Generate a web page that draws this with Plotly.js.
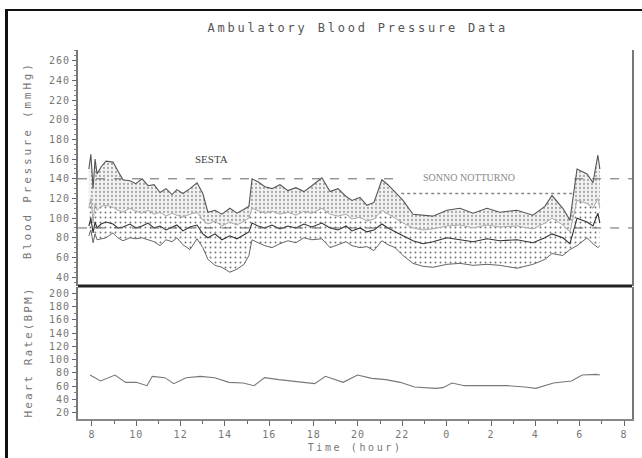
<!DOCTYPE html>
<html>
<head>
<meta charset="utf-8">
<script src="https://cdn.plot.ly/plotly-3.0.1.min.js"></script>
<style>
  html, body { margin: 0; padding: 0; background: #fff; }
  #chart { width: 642px; height: 458px; }
  #frame { position: absolute; left: 5px; top: 9px; width: 660px; height: 470px;
           border-left: 3px solid #111; border-top: 2px solid #111; pointer-events: none; }
</style>
</head>
<body>
<div id="chart"></div>
<div id="frame"></div>
<script>
// ---- data (hours; values after 24 are the next morning) ----
const hours = [7.86,7.95,8.05,8.14,8.23,8.41,8.63,8.95,9.17,9.40,9.71,9.98,10.26,10.53,10.80,11.07,11.34,11.61,11.83,12.10,12.42,12.74,13.00,13.23,13.55,13.86,14.22,14.54,14.86,15.08,15.22,15.49,15.80,16.12,16.48,16.84,17.20,17.56,17.92,18.37,18.74,19.10,19.46,19.73,20.09,20.40,20.72,21.08,21.35,21.67,22.03,22.48,22.93,23.38,24.01,24.60,25.19,25.82,26.40,27.17,27.89,28.43,28.75,29.24,29.56,29.88,30.33,30.60,30.82,30.91];
const systolic = [150,165,130,160,145,152,158,157,148,139,138,135,140,133,134,126,130,124,129,125,130,136,125,106,108,104,110,105,109,112,140,137,132,130,134,128,131,127,133,141,127,130,122,118,121,113,116,139,134,126,118,104,103,102,108,110,105,110,106,108,103,112,123,110,98,150,145,136,164,150];
const upperMid = [110,120,95,115,108,112,113,111,108,106,110,107,105,108,104,106,102,105,103,101,104,106,98,94,97,92,96,93,97,100,110,108,105,107,104,106,103,107,105,110,104,102,104,99,101,97,99,108,104,100,95,90,88,89,92,93,90,93,91,92,89,95,100,93,86,118,115,110,120,110];
const meanLine = [92,100,85,96,90,94,96,94,90,91,94,90,92,95,90,92,88,91,93,87,91,93,84,80,84,78,82,79,83,86,95,92,90,93,89,92,90,94,91,95,90,88,92,87,90,86,88,94,90,86,82,77,74,76,80,78,76,79,77,78,75,80,84,80,74,100,96,92,105,95];
const diastolic = [82,88,75,84,78,79,80,85,80,77,80,79,80,78,76,72,78,76,80,73,68,79,70,58,52,50,45,48,53,62,78,75,72,70,74,77,75,80,78,79,70,73,76,72,70,71,67,77,73,70,62,54,51,50,53,54,52,53,52,49,53,58,64,62,68,72,80,74,70,72];

const hrHours = [7.91,8.39,9.04,9.52,10.00,10.48,10.72,11.29,11.69,12.25,12.89,13.54,14.18,14.82,15.31,15.79,16.43,17.08,17.72,18.05,18.53,19.33,19.98,20.62,21.26,21.90,22.55,23.51,23.83,24.24,24.80,25.93,26.73,27.53,28.02,28.82,29.63,30.11,30.76,30.91];
const heartRate = [77,68,77,66,66,61,75,73,64,73,75,73,66,65,61,73,70,68,66,64,75,66,77,72,70,66,59,57,58,65,61,61,61,59,57,65,68,77,78,77];

const xTickVals = [8,10,12,14,16,18,20,22,24,26,28,30,32];
const xTickText = ["8","10","12","14","16","18","20","22","0","2","4","6","8"];
const bpTicks = [40,60,80,100,120,140,160,180,200,220,240,260];
const hrTicks = [20,40,60,80,100,120,140,160,180,200];

// threshold segments: [startHour, endHour, value]
const daySysLimit = [[7.37,21.95,140],[29.75,32.36,140]];
const dayDiaLimit = [[7.37,21.95,90],[29.75,32.36,90]];
const nightSysLimit = [[21.95,29.75,125]];

const labels = [
  {text:"SESTA", x:13.4, y:160},
  {text:"SONNO NOTTURNO", x:25.0, y:141}
];

// ---- traces ----
const traces = [
  {x:hours, y:diastolic, type:'scatter', mode:'lines', xaxis:'x', yaxis:'y',
   line:{color:'#666', width:1}, hoverinfo:'skip'},
  {x:hours, y:upperMid, type:'scatter', mode:'lines', xaxis:'x', yaxis:'y', fill:'tonexty',
   fillcolor:'rgba(0,0,0,0)',
   fillpattern:{shape:'.', fgcolor:'#777', bgcolor:'rgba(255,255,255,0)', size:5, solidity:0.12},
   line:{color:'#aaa', width:1}, hoverinfo:'skip'},
  {x:hours, y:systolic, type:'scatter', mode:'lines', xaxis:'x', yaxis:'y', fill:'tonexty',
   fillcolor:'rgba(0,0,0,0)',
   fillpattern:{shape:'.', fgcolor:'#aaa', bgcolor:'rgba(230,230,230,0.5)', size:4, solidity:0.25},
   line:{color:'#555', width:1.1}, hoverinfo:'skip'},
  {x:hours, y:meanLine, type:'scatter', mode:'lines', xaxis:'x', yaxis:'y',
   line:{color:'#333', width:1.1}, hoverinfo:'skip'},
  {x:hrHours, y:heartRate, type:'scatter', mode:'lines', xaxis:'x', yaxis:'y2',
   line:{color:'#777', width:1.1}, hoverinfo:'skip'}
];

const shapes = [];
daySysLimit.concat(dayDiaLimit).forEach(s => shapes.push({type:'line', xref:'x', yref:'y',
  x0:s[0], x1:s[1], y0:s[2], y1:s[2], line:{color:'#666', width:1, dash:'dash'}}));
nightSysLimit.forEach(s => shapes.push({type:'line', xref:'x', yref:'y',
  x0:s[0], x1:s[1], y0:s[2], y1:s[2], line:{color:'#888', width:1.5, dash:'dot'}}));
// separator between the two panels
shapes.push({type:'line', xref:'paper', yref:'paper', x0:0, x1:1, y0:0.3605, y1:0.3605,
  line:{color:'#222', width:3}});

const monoFont = {family:'"DejaVu Sans Mono", monospace', size:10, color:'#777'};
const titleFont = {family:'"DejaVu Sans Mono", monospace', size:11, color:'#777'};

const annotations = labels.map((l,i) => ({
  text:l.text, x:l.x, y:l.y, xref:'x', yref:'y', showarrow:false,
  xanchor:'center', yanchor:'middle',
  font:{family:'"Liberation Serif", serif', size: i===0 ? 11 : 10, color: i===0 ? '#444' : '#888'}
}));
annotations.push(
  {text:'Blood Pressure (mmHg)', xref:'paper', yref:'paper', x:-0.09, y:0.70, textangle:-90,
   xanchor:'center', yanchor:'middle', showarrow:false, font:titleFont},
  {text:'Heart Rate(BPM)', xref:'paper', yref:'paper', x:-0.09, y:0.18, textangle:-90,
   xanchor:'center', yanchor:'middle', showarrow:false, font:titleFont},
  {text:'Time (hour)', xref:'paper', yref:'paper', x:0.5, y:-0.077,
   xanchor:'center', yanchor:'middle', showarrow:false,
   font:{family:'"DejaVu Sans Mono", monospace', size:10, color:'#777'}}
);

const layout = {
  width:642, height:458,
  margin:{l:78, r:10, t:50, b:39},
  paper_bgcolor:'#fff', plot_bgcolor:'#fff',
  showlegend:false,
  title:{text:'Ambulatory Blood Pressure Data', x:0.505, xref:'paper', xanchor:'center',
         y:1-28/458, yref:'container', yanchor:'middle',
         font:{family:'"DejaVu Sans Mono", monospace', size:12, color:'#555'}},
  xaxis:{range:[7.37,32.36], anchor:'y2', tickmode:'array', tickvals:xTickVals, ticktext:xTickText,
         ticks:'outside', ticklen:5, tickcolor:'#666', showgrid:false, zeroline:false,
         showline:true, linecolor:'#888', linewidth:2, mirror:false,
         minor:{dtick:1, tick0:0, ticks:'outside', ticklen:3, tickcolor:'#666', showgrid:false},
         tickfont:monoFont},
  yaxis:{domain:[0.3605,1], range:[31,271], tickmode:'array', tickvals:bpTicks,
         ticks:'outside', ticklen:4, tickcolor:'#666', showgrid:false, zeroline:false,
         showline:true, linecolor:'#777', linewidth:2, mirror:true,
         minor:{dtick:5, tick0:0, ticks:'outside', ticklen:2, tickcolor:'#888', showgrid:false},
         tickfont:monoFont},
  yaxis2:{domain:[0,0.3577], range:[11,209], tickmode:'array', tickvals:hrTicks,
         ticks:'outside', ticklen:4, tickcolor:'#666', showgrid:false, zeroline:false,
         showline:true, linecolor:'#777', linewidth:2, mirror:true,
         minor:{dtick:10, tick0:0, ticks:'outside', ticklen:2, tickcolor:'#888', showgrid:false},
         tickfont:monoFont},
  shapes:shapes,
  annotations:annotations
};

Plotly.newPlot('chart', traces, layout, {displayModeBar:false, staticPlot:true}).then(gd => {
  // widen the plotter-style lettering to match the original
  const spacing = {
    'Ambulatory Blood Pressure Data': '2.8px',
    'Blood Pressure (mmHg)': '2.8px',
    'Heart Rate(BPM)': '2.1px',
    'Time (hour)': '2.6px'
  };
  gd.querySelectorAll('text').forEach(t => {
    const s = spacing[t.textContent];
    if (s) t.style.letterSpacing = s;
  });
  gd.querySelectorAll('.xtick text, .ytick text, .y2tick text').forEach(t => {
    t.style.letterSpacing = '1px';
  });
});
</script>
</body>
</html>
